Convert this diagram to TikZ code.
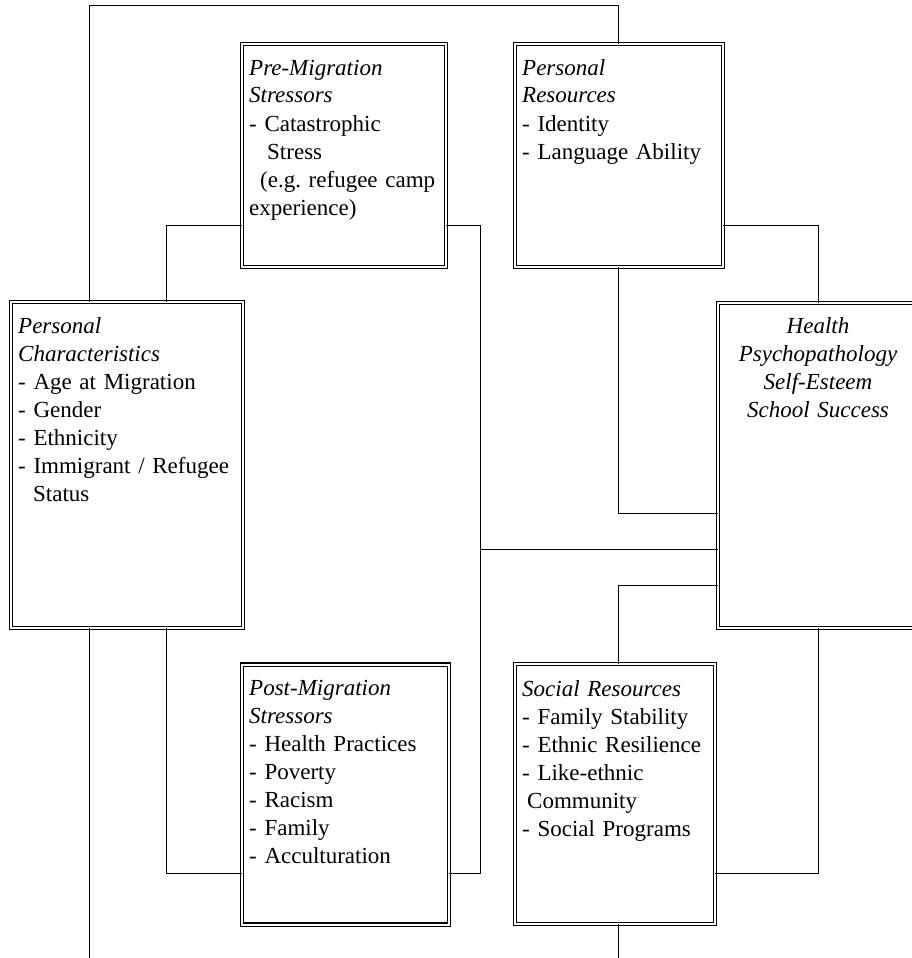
\documentclass[tikz,border=0pt]{standalone}
\usepackage{fontspec}
\setmainfont{Liberation Serif}
\usepackage{tikz}

\begin{document}
\begin{tikzpicture}[x=1pt, y=-1pt,
		factorbox/.style={draw, rectangle, line width=1.1pt, double, double distance=2pt, inner sep=0pt, outer sep=0pt},
		boxtext/.style={inner sep=0pt, anchor=base west, text width=235pt, align=left, font=\fontsize{23}{28}\selectfont},
		link/.style={line width=1pt}]
			\path[use as bounding box, clip] (0,0) rectangle (912,958);
			
			\node [factorbox, minimum width=204pt, minimum height=223pt] (premig) at (344,155.5) {};
			\node [factorbox, minimum width=208pt, minimum height=223pt] (persres) at (619,155.5) {};
			\node [factorbox, minimum width=232pt, minimum height=326pt] (perschar) at (127,465) {};
			\node [factorbox, minimum width=220pt, minimum height=325pt] (health) at (828,465.5) {};
			\node [factorbox, minimum width=207pt, minimum height=260pt] (postmig) at (345.5,794.5) {};
			\node [factorbox, minimum width=200pt, minimum height=260pt] (socres) at (615,794) {};
			
			\node [boxtext] (premigtext) at (249,75) {\textit{Pre-Migration}\\ \textit{Stressors}\\ - Catastrophic\\ \hspace*{18pt}Stress\\ \hspace*{11pt}(e.g.\ refugee camp\\ experience)};
			\node [boxtext] (persrestext) at (522,75) {\textit{Personal}\\ \textit{Resources}\\ - Identity\\ - Language Ability};
			\node [boxtext] (perschartext) at (18,333) {\textit{Personal}\\ \textit{Characteristics}\\ - Age at Migration\\ - Gender\\ - Ethnicity\\ - Immigrant / Refugee\\ \hspace*{15pt}Status};
			\node [boxtext, anchor=base, text width=200pt, align=center] (healthtext) at (818,333) {\textit{Health}\\ \textit{Psychopathology}\\ \textit{Self-Esteem}\\ \textit{School Success}};
			\node [boxtext] (postmigtext) at (249,695) {\textit{Post-Migration}\\ \textit{Stressors}\\ - Health Practices\\ - Poverty\\ - Racism\\ - Family\\ - Acculturation};
			\node [boxtext] (socrestext) at (522,696) {\textit{Social Resources}\\ - Family Stability\\ - Ethnic Resilience\\ - Like-ethnic\\ \hspace*{5pt}Community\\ - Social Programs};
			
			\coordinate (hub) at (480,549);
			\coordinate (bottomL) at (89,958);
			\coordinate (bottomR) at (618,958);
			
			\draw [link] (perschar.north -| 89,0) |- (618,6) -- (persres.north -| 618,0);
			\draw [link] (premig.west |- 0,225) -| (perschar.north -| 166,0);
			\draw [link] (premig.east |- 0,225) -| (480,873) -- (postmig.east |- 0,873);
			\draw [link] (hub) -- (health.west |- hub);
			\draw [link] (persres.east |- 0,225) -| (health.north -| 818,0);
			\draw [link] (persres.south -| 618,0) |- (health.west |- 0,513);
			\draw [link] (health.west |- 0,585) -| (socres.north -| 618,0);
			\draw [link] (health.south -| 818,0) |- (socres.east |- 0,873);
			\draw [link] (socres.south -| 618,0) -- (bottomR);
			\draw [link] (perschar.south -| 89,0) -- (bottomL);
			\draw [link] (perschar.south -| 166,0) |- (postmig.west |- 0,873);
		\end{tikzpicture}
\end{document}
